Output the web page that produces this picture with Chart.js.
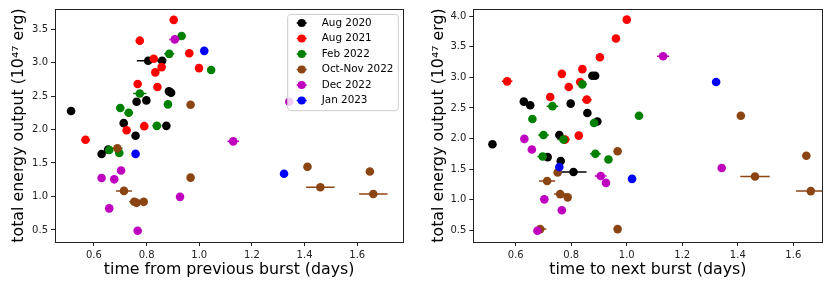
<!DOCTYPE html>
<html lang="en">
<head>
<meta charset="UTF-8">
<title>Burst energy vs waiting time</title>
<script src="https://cdn.jsdelivr.net/npm/chart.js"></script>
<style>
  body { margin: 0; background: #fff; }
  .wrap { position: absolute; top: 0; width: 415px; height: 287px; }
</style>
</head>
<body>
<div class="wrap" style="left:0"><canvas id="prevChart" width="415" height="287"></canvas></div>
<div class="wrap" style="left:415px"><canvas id="nextChart" width="415" height="287"></canvas></div>
<script>
const seriesNames = ['Aug 2020', 'Aug 2021', 'Feb 2022', 'Oct-Nov 2022', 'Dec 2022', 'Jan 2023'];
const seriesColors = ['#000000', '#ff0000', '#008000', '#8b4513', '#bf00bf', '#0000ff'];
const xTicks = [0.6, 0.8, 1.0, 1.2, 1.4, 1.6];
const yTicksPrev = [0.5, 1.0, 1.5, 2.0, 2.5, 3.0, 3.5];
const yTicksNext = [0.5, 1.0, 1.5, 2.0, 2.5, 3.0, 3.5, 4.0];

// time from previous burst (days), energy (1e47 erg), x error (days)
const aug2020PrevT = [0.513, 0.629, 0.654, 0.806, 0.859, 0.885, 0.893, 0.762, 0.799, 0.713, 0.875, 0.758];
const aug2020PrevE = [2.277, 1.635, 1.70, 3.027, 3.027, 2.57, 2.548, 2.414, 2.435, 2.095, 2.055, 1.907];
const aug2020PrevErr = [0, 0, 0, 0.043, 0, 0, 0, 0, 0, 0, 0, 0];
const aug2021PrevT = [0.903, 0.774, 0.962, 0.827, 0.857, 0.833, 0.999, 0.766, 0.841, 0.791, 0.724, 0.568];
const aug2021PrevE = [3.638, 3.327, 3.139, 3.056, 2.932, 2.854, 2.917, 2.68, 2.636, 2.05, 1.99, 1.848];
const aug2021PrevErr = [0, 0, 0, 0, 0, 0, 0, 0, 0, 0, 0, 0.016];
const feb2022PrevT = [0.933, 0.886, 1.045, 0.774, 0.700, 0.732, 0.881, 0.839, 0.658, 0.696];
const feb2022PrevE = [3.396, 3.13, 2.888, 2.538, 2.321, 2.251, 2.376, 2.055, 1.695, 1.651];
const feb2022PrevErr = [0, 0.019, 0, 0.025, 0.015, 0.017, 0, 0.017, 0, 0];
const octNov2022PrevT = [0.967, 0.689, 0.967, 0.714, 0.753, 0.762, 0.789, 1.411, 1.648, 1.46, 1.661];
const octNov2022PrevE = [2.37, 1.719, 1.281, 1.083, 0.92, 0.905, 0.92, 1.444, 1.374, 1.137, 1.038];
const octNov2022PrevErr = [0, 0.02, 0, 0.03, 0.019, 0, 0, 0, 0, 0.054, 0.054];
const dec2022PrevT = [0.907, 1.342, 1.129, 0.629, 0.677, 0.703, 0.658, 0.766, 0.927];
const dec2022PrevE = [3.346, 2.414, 1.823, 1.275, 1.256, 1.389, 0.822, 0.487, 0.994];
const dec2022PrevErr = [0.021, 0, 0.022, 0, 0, 0, 0, 0, 0];
const jan2023PrevT = [1.019, 0.758, 1.322];
const jan2023PrevE = [3.175, 1.636, 1.34];
const jan2023PrevErr = [0, 0, 0];

// time to next burst (days), energy (1e47 erg), x error (days)
const aug2020NextT = [0.516, 0.629, 0.652, 0.798, 0.876, 0.886, 0.858, 0.894, 0.757, 0.715, 0.762, 0.808];
const aug2020NextE = [1.906, 2.604, 2.545, 2.571, 3.026, 3.026, 2.416, 2.279, 2.058, 1.695, 1.630, 1.451];
const aug2020NextErr = [0, 0, 0, 0, 0, 0, 0, 0, 0, 0, 0, 0.047];
const aug2021NextT = [1.0, 0.961, 0.903, 0.766, 0.840, 0.569, 0.791, 0.832, 0.724, 0.856, 0.827, 0.778];
const aug2021NextE = [3.946, 3.638, 3.330, 3.058, 3.135, 2.935, 2.843, 2.924, 2.680, 2.636, 2.047, 1.982];
const aug2021NextErr = [0, 0, 0, 0, 0, 0.019, 0, 0, 0, 0.018, 0, 0];
const feb2022NextT = [0.840, 0.732, 0.660, 1.044, 0.882, 0.700, 0.772, 0.697, 0.887, 0.934];
const feb2022NextE = [2.886, 2.529, 2.318, 2.372, 2.253, 2.058, 1.982, 1.706, 1.750, 1.657];
const feb2022NextErr = [0.015, 0.021, 0, 0, 0, 0.019, 0.022, 0.019, 0.019, 0];
const octNov2022NextT = [0.967, 0.751, 0.713, 0.760, 0.787, 0.688, 0.967, 1.411, 1.647, 1.462, 1.663];
const octNov2022NextE = [1.792, 1.442, 1.305, 1.089, 1.036, 0.516, 0.516, 2.372, 1.718, 1.377, 1.138];
const octNov2022NextErr = [0, 0, 0.029, 0.022, 0, 0.022, 0, 0, 0, 0.053, 0.053];
const dec2022NextT = [1.131, 1.342, 0.631, 0.658, 0.906, 0.925, 0.703, 0.766, 0.678];
const dec2022NextE = [3.346, 1.516, 1.994, 1.820, 1.386, 1.273, 1.003, 0.824, 0.489];
const dec2022NextErr = [0.022, 0, 0, 0, 0.021, 0, 0, 0, 0];
const jan2023NextT = [1.322, 0.757, 1.019];
const jan2023NextE = [2.924, 1.532, 1.338];
const jan2023NextErr = [0, 0, 0];

const prevSeries = [
  [aug2020PrevT, aug2020PrevE, aug2020PrevErr],
  [aug2021PrevT, aug2021PrevE, aug2021PrevErr],
  [feb2022PrevT, feb2022PrevE, feb2022PrevErr],
  [octNov2022PrevT, octNov2022PrevE, octNov2022PrevErr],
  [dec2022PrevT, dec2022PrevE, dec2022PrevErr],
  [jan2023PrevT, jan2023PrevE, jan2023PrevErr]
];
const nextSeries = [
  [aug2020NextT, aug2020NextE, aug2020NextErr],
  [aug2021NextT, aug2021NextE, aug2021NextErr],
  [feb2022NextT, feb2022NextE, feb2022NextErr],
  [octNov2022NextT, octNov2022NextE, octNov2022NextErr],
  [dec2022NextT, dec2022NextE, dec2022NextErr],
  [jan2023NextT, jan2023NextE, jan2023NextErr]
];

const FONT = 'DejaVu Sans';
const INK = '#222';

function makeDatasets(series) {
  return series.map(([t, e, err], i) => ({
    label: seriesNames[i],
    data: t.map((v, k) => ({ x: v, y: e[k], xErr: err[k] })),
    backgroundColor: seriesColors[i],
    borderWidth: 0,
    pointRadius: 4.3,
    pointHoverRadius: 4.3,
    order: seriesNames.length - i
  }));
}

// horizontal error bars, drawn under the markers
const errorBars = {
  id: 'errorBars',
  beforeDatasetsDraw(chart) {
    const { ctx, chartArea: a, scales: { x, y } } = chart;
    ctx.save();
    ctx.beginPath();
    ctx.rect(a.left, a.top, a.right - a.left, a.bottom - a.top);
    ctx.clip();
    ctx.lineWidth = 1.5;
    chart.data.datasets.forEach(ds => {
      ds.data.forEach(p => {
        if (!p.xErr) return;
        const py = y.getPixelForValue(p.y);
        ctx.strokeStyle = ds.backgroundColor;
        ctx.beginPath();
        ctx.moveTo(x.getPixelForValue(p.x - p.xErr), py);
        ctx.lineTo(x.getPixelForValue(p.x + p.xErr), py);
        ctx.stroke();
      });
    });
    ctx.restore();
  }
};

// matplotlib style box around the axes
const frame = {
  id: 'frame',
  afterDatasetsDraw(chart) {
    const { ctx, chartArea: a } = chart;
    ctx.save();
    ctx.strokeStyle = INK;
    ctx.lineWidth = 1;
    ctx.strokeRect(Math.round(a.left) + 0.5, Math.round(a.top) + 0.5,
      Math.round(a.right - a.left), Math.round(a.bottom - a.top));
    ctx.restore();
  }
};

const legendBox = {
  id: 'legendBox',
  afterDatasetsDraw(chart) {
    const { ctx, chartArea: a } = chart;
    const w = 110.6, h = 96.3;
    const bx = a.right - 5 - w, by = a.top + 5.4;
    ctx.save();
    ctx.fillStyle = 'rgba(255,255,255,0.8)';
    ctx.strokeStyle = '#cccccc';
    ctx.lineWidth = 1;
    ctx.beginPath();
    ctx.roundRect(bx, by, w, h, 3);
    ctx.fill();
    ctx.stroke();
    ctx.font = '10.4px "' + FONT + '"';
    ctx.textBaseline = 'middle';
    ctx.textAlign = 'left';
    seriesNames.forEach((name, i) => {
      const cy = by + 8.6 + i * 15.5;
      const cx = bx + 14;
      ctx.strokeStyle = seriesColors[i];
      ctx.lineWidth = 1.5;
      ctx.beginPath();
      ctx.moveTo(cx - 5, cy);
      ctx.lineTo(cx + 5, cy);
      ctx.stroke();
      ctx.fillStyle = seriesColors[i];
      ctx.beginPath();
      ctx.arc(cx, cy, 4.1, 0, Math.PI * 2);
      ctx.fill();
      ctx.fillStyle = '#000';
      ctx.fillText(name, bx + 34, cy);
    });
    ctx.restore();
  }
};

function makeChart(id, series, opts) {
  return new Chart(document.getElementById(id), {
    type: 'scatter',
    data: { datasets: makeDatasets(series) },
    options: {
      responsive: false,
      animation: false,
      layout: { padding: { top: 7.3, right: opts.padRight, left: 0, bottom: 0 } },
      plugins: { legend: { display: false }, tooltip: { enabled: false } },
      scales: {
        x: {
          type: 'linear',
          min: opts.xMin, max: opts.xMax,
          afterFit: s => { s.height = 45; },
          afterBuildTicks: s => { s.ticks = xTicks.map(v => ({ value: v })); },
          border: { display: false },
          grid: { drawOnChartArea: false, drawTicks: true, tickLength: 4, color: INK },
          ticks: {
            padding: 3, color: INK, maxRotation: 0,
            font: { family: FONT, size: 10 },
            callback: v => v.toFixed(1)
          },
          title: {
            display: true, text: opts.xTitle, color: '#000',
            font: { family: FONT, size: 15.8 },
            padding: { top: 0, bottom: 8 }
          }
        },
        y: {
          type: 'linear',
          min: opts.yMin, max: opts.yMax,
          afterFit: s => { s.width = opts.yWidth; },
          afterBuildTicks: s => { s.ticks = opts.yTicks.map(v => ({ value: v })); },
          border: { display: false },
          grid: { drawOnChartArea: false, drawTicks: true, tickLength: 4, color: INK },
          ticks: {
            padding: 3, color: INK,
            font: { family: FONT, size: 10 },
            callback: v => v.toFixed(1)
          },
          title: {
            display: true, text: 'total energy output (10\u2074\u2077 erg)', color: '#000',
            font: { family: FONT, size: 15.8 },
            padding: { top: opts.yTitlePad, bottom: 0 }
          }
        }
      }
    },
    plugins: opts.legend ? [errorBars, frame, legendBox] : [errorBars, frame]
  });
}

makeChart('prevChart', prevSeries, {
  xMin: 0.452, xMax: 1.775, yMin: 0.32, yMax: 3.80,
  yTicks: yTicksPrev, yWidth: 55, padRight: 11.7, yTitlePad: 9,
  xTitle: 'time from previous burst (days)', legend: true
});
makeChart('nextChart', nextSeries, {
  xMin: 0.447, xMax: 1.7045, yMin: 0.305, yMax: 4.12,
  yTicks: yTicksNext, yWidth: 58.3, padRight: 7.7, yTitlePad: 14,
  xTitle: 'time to next burst (days)', legend: false
});
</script>
</body>
</html>
